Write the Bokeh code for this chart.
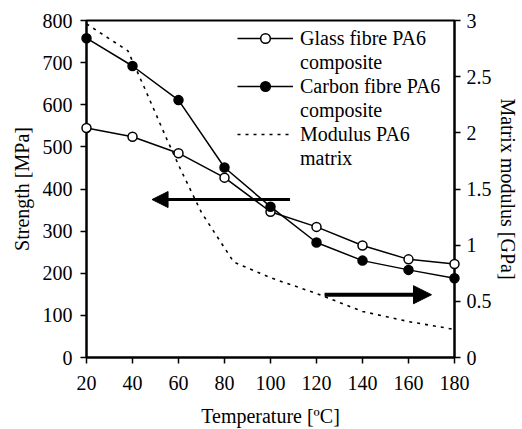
from bokeh.plotting import figure
from bokeh.models import (Range1d, LinearAxis, FixedTicker, Legend, LegendItem,
                          Arrow, NormalHead)
from bokeh.embed import file_html
from bokeh.resources import INLINE

# ---- data ----
temperature = [20, 40, 60, 80, 100, 120, 140, 160, 180]
glass_strength = [545, 524, 485, 427, 346, 310, 266, 233, 222]
carbon_strength = [758, 692, 611, 451, 358, 273, 230, 208, 188]
modulus_temp = [20, 38, 45, 55, 61, 70, 84, 100, 120, 140, 160, 180]
modulus_gpa = [2.97, 2.73, 2.41, 1.94, 1.67, 1.29, 0.85, 0.71, 0.57, 0.41, 0.32, 0.25]
x_ticks = [20, 40, 60, 80, 100, 120, 140, 160, 180]
y_ticks = [0, 100, 200, 300, 400, 500, 600, 700, 800]
y2_ticks = [0, 0.5, 1, 1.5, 2, 2.5, 3]
y2_tick_labels = ["0", "0.5", "1", "1.5", "2", "2.5", "3"]
# arrows (temperature, strength)
arrow_left = dict(x_start=108.5, x_end=48.5, y=375)
arrow_right = dict(x_start=123.5, x_end=170, y=149)

FONT = "Liberation Serif"
FS = "20px"

p = figure(width=522, height=429, output_backend="svg", toolbar_location=None,
           x_range=Range1d(20, 180), y_range=Range1d(0, 800),
           min_border_left=86, min_border_right=68, min_border_top=20,
           min_border_bottom=70)
p.extra_y_ranges = {"mod": Range1d(0, 3)}
p.grid.visible = False
p.outline_line_color = "black"
p.outline_line_width = 2
p.background_fill_color = "white"
p.border_fill_color = "white"

def style_axis(ax):
    ax.axis_line_width = 2
    ax.major_tick_line_width = 1.5
    ax.major_tick_in = 0
    ax.major_tick_out = 6
    ax.minor_tick_line_color = None
    ax.major_label_text_font = FONT
    ax.major_label_text_font_size = FS
    ax.major_label_text_color = "black"
    ax.axis_label_text_font = FONT
    ax.axis_label_text_font_size = FS
    ax.axis_label_text_font_style = "normal"
    ax.axis_label_text_color = "black"

p.xaxis.ticker = FixedTicker(ticks=x_ticks)
p.xaxis.axis_label = "Temperature [ºC]"
p.yaxis.ticker = FixedTicker(ticks=y_ticks)
p.yaxis.axis_label = "Strength [MPa]"
style_axis(p.xaxis[0])
style_axis(p.yaxis[0])
p.yaxis.major_label_standoff = 8
p.xaxis.major_label_standoff = 12
p.xaxis.axis_label_standoff = 12
p.yaxis.axis_label_standoff = 7

ax2 = LinearAxis(y_range_name="mod", ticker=FixedTicker(ticks=y2_ticks),
                 axis_label="Matrix modulus [GPa]")
ax2.major_label_overrides = {t: l for t, l in zip(y2_ticks, y2_tick_labels)}
style_axis(ax2)
ax2.major_label_standoff = 6
ax2.axis_label_standoff = 2
p.add_layout(ax2, "right")

# series
mod_line = p.line(modulus_temp, modulus_gpa, y_range_name="mod", line_color="black",
                  line_width=1.6, line_dash="3 5")
g_line = p.line(temperature, glass_strength, line_color="black", line_width=1.5)
g_pts = p.scatter(temperature, glass_strength, marker="circle", size=9,
                  fill_color="white", line_color="black", line_width=1.5,
                  level="overlay")
c_line = p.line(temperature, carbon_strength, line_color="black", line_width=1.5)
c_pts = p.scatter(temperature, carbon_strength, marker="circle", size=9,
                  fill_color="black", line_color="black", line_width=1.5,
                  level="overlay")

# arrows
for a, sz, lw in ((arrow_left, 16, 3), (arrow_right, 18, 4)):
    p.add_layout(Arrow(end=NormalHead(size=sz, fill_color="black", line_color="black"),
                       x_start=a["x_start"], y_start=a["y"], x_end=a["x_end"], y_end=a["y"],
                       line_width=lw, line_color="black"))

# legend with spacer rows
d1 = p.line([], [], line_alpha=0)
d2 = p.line([], [], line_alpha=0)
d3 = p.line([], [], line_alpha=0)
items = [
    LegendItem(label="Glass fibre PA6", renderers=[g_line, g_pts]),
    LegendItem(label="composite", renderers=[d1]),
    LegendItem(label="Carbon fibre PA6", renderers=[c_line, c_pts]),
    LegendItem(label="composite", renderers=[d2]),
    LegendItem(label="Modulus PA6", renderers=[mod_line]),
    LegendItem(label="matrix", renderers=[d3]),
]
leg = Legend(items=items, location=(151, 187), border_line_color=None,
             background_fill_alpha=0, padding=0, margin=0, spacing=0,
             glyph_width=56, glyph_height=24, label_height=24, label_standoff=7,
             label_text_font=FONT, label_text_font_size=FS, label_text_color="black")
p.add_layout(leg, "center")

open("out.html", "w").write(file_html(p, INLINE))
